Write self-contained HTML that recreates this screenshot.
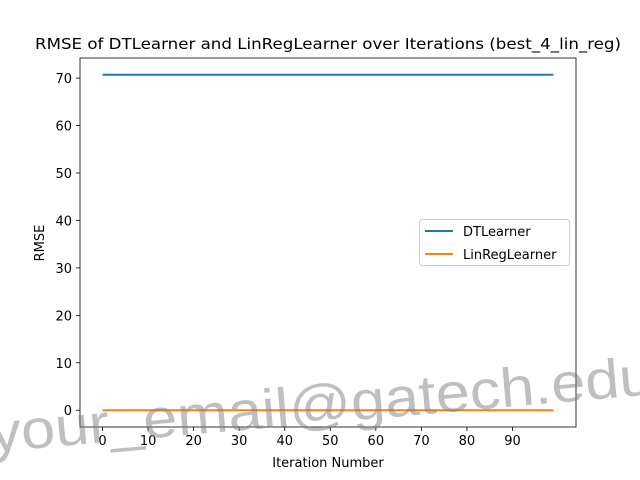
<!DOCTYPE html>
<html><head><meta charset="utf-8"><style>body{margin:0;background:#fff}svg{display:block;font-family:"DejaVu Sans","Liberation Sans",sans-serif}</style></head>
<body>
<svg id="chart" width="640" height="480" xmlns="http://www.w3.org/2000/svg">
<rect width="640" height="480" fill="#fff"/>
<text x="328" y="49" font-size="15.5" text-anchor="middle" textLength="586" lengthAdjust="spacingAndGlyphs">RMSE of DTLearner and LinRegLearner over Iterations (best_4_lin_reg)</text>
<g id="plot"></g>
<text x="328" y="467" font-size="13" text-anchor="middle">Iteration Number</text>
<text transform="translate(44,243) rotate(-90)" font-size="13" text-anchor="middle">RMSE</text>
<g>
<rect x="419.5" y="219.5" width="150" height="46" rx="3" fill="#fff" fill-opacity="0.8" stroke="#ccc"/>
<line x1="425" y1="231" x2="453" y2="231" stroke="#1f77b4" stroke-width="2"/>
<text x="463" y="236" font-size="13">DTLearner</text>
<line x1="425" y1="254" x2="453" y2="254" stroke="#ff7f0e" stroke-width="2"/>
<text x="463" y="259" font-size="13">LinRegLearner</text>
</g>
<text transform="translate(-8,452) rotate(-5)" font-size="55" fill="#808080" fill-opacity="0.5" textLength="665" lengthAdjust="spacingAndGlyphs" font-family="Liberation Sans, sans-serif">your_email@gatech.edu</text>
</svg>
<script>
const iterations = Array.from({length:100},(_, i)=>i);
const dtValues = [70.7,70.7,70.7,70.7,70.7,70.7,70.7,70.7,70.7,70.7,70.7,70.7,70.7,70.7,70.7,70.7,70.7,70.7,70.7,70.7,70.7,70.7,70.7,70.7,70.7,70.7,70.7,70.7,70.7,70.7,70.7,70.7,70.7,70.7,70.7,70.7,70.7,70.7,70.7,70.7,70.7,70.7,70.7,70.7,70.7,70.7,70.7,70.7,70.7,70.7,70.7,70.7,70.7,70.7,70.7,70.7,70.7,70.7,70.7,70.7,70.7,70.7,70.7,70.7,70.7,70.7,70.7,70.7,70.7,70.7,70.7,70.7,70.7,70.7,70.7,70.7,70.7,70.7,70.7,70.7,70.7,70.7,70.7,70.7,70.7,70.7,70.7,70.7,70.7,70.7,70.7,70.7,70.7,70.7,70.7,70.7,70.7,70.7,70.7,70.7];
const linValues = new Array(100).fill(0);
const xTicks = [0,10,20,30,40,50,60,70,80,90];
const yTicks = [0,10,20,30,40,50,60,70];
const L=80,R=576,T=58,B=427;
const xmin=-4.95,xmax=103.95,ymin=-3.535,ymax=74.235;
const sx=v=>L+(v-xmin)/(xmax-xmin)*(R-L);
const sy=v=>B-(v-ymin)/(ymax-ymin)*(B-T);
const NS="http://www.w3.org/2000/svg";
const g=document.getElementById('plot');
function mk(t,a){const e=document.createElementNS(NS,t);for(const k in a)e.setAttribute(k,a[k]);g.appendChild(e);return e;}
xTicks.forEach(v=>{const x=sx(v);
 const l=mk('line',{x1:x,y1:B,x2:x,y2:B+4,stroke:'#000','stroke-width':0.8});
 
 
 const t=mk('text',{x:x,y:B+18,'font-size':13,'text-anchor':'middle'});t.textContent=v;
 
 });
yTicks.forEach(v=>{const y=sy(v);
 const l=mk('line',{x1:L-4,y1:y,x2:L,y2:y,stroke:'#000','stroke-width':0.8});
 
 
 const t=mk('text',{x:L-8,y:y+5,'font-size':13,'text-anchor':'end'});t.textContent=v;
 
 });
function line(vals,color,name){const p=mk('polyline',{points:iterations.map((x,i)=>sx(x)+','+sy(vals[i])).join(' '),fill:'none',stroke:color,'stroke-width':2});
 
 }
line(dtValues,'#1f77b4','dtlearner-line');
line(linValues,'#ff7f0e','linreglearner-line');
const f=mk('rect',{x:L,y:T,width:R-L,height:B-T,fill:'none',stroke:'#000','stroke-width':0.8});


</script>
</body></html>
